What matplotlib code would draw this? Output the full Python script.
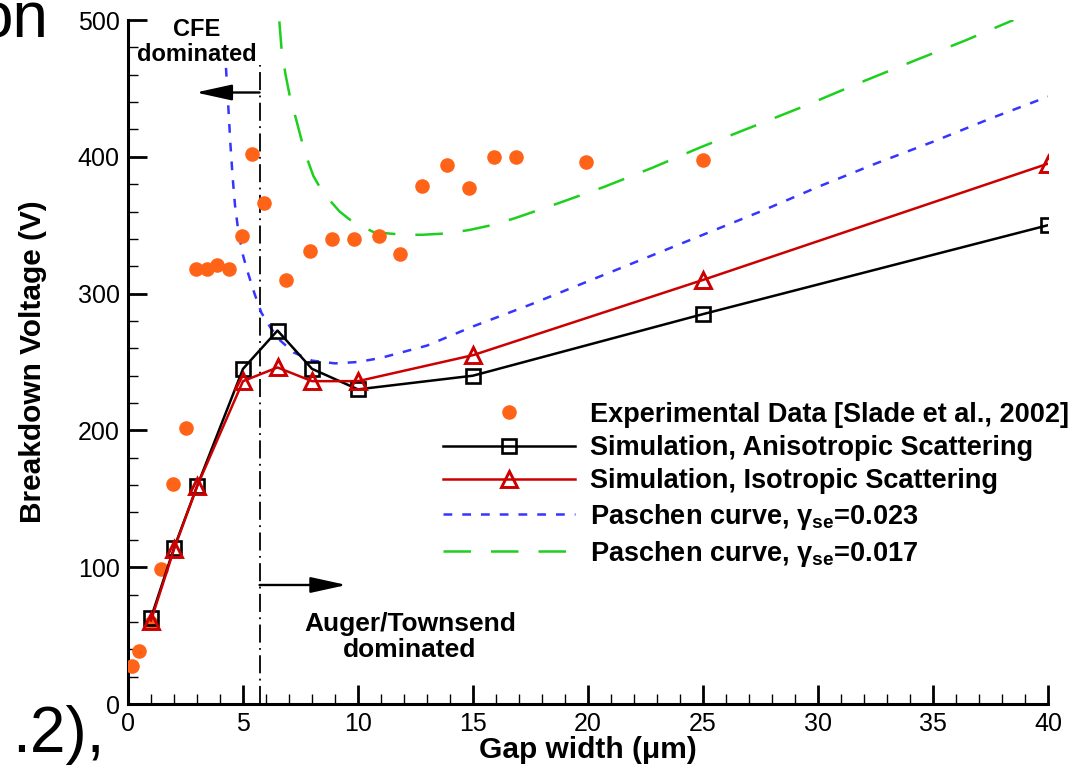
import matplotlib
matplotlib.use("Agg")
import matplotlib.pyplot as plt
from matplotlib.ticker import MultipleLocator

plt.rcParams["font.family"] = ["Liberation Sans", "DejaVu Sans"]
plt.rcParams["mathtext.fontset"] = "custom"
plt.rcParams["mathtext.rm"] = "Liberation Sans:bold"
plt.rcParams["mathtext.it"] = "Liberation Sans"

# experimental breakdown voltages [Slade et al., 2002]
exp_x = [0.19, 0.49, 0.99, 1.42, 1.97, 2.51, 2.94, 3.45, 3.88, 4.41, 4.97, 5.38, 5.9,
         6.86, 7.9, 8.87, 9.83, 10.9, 11.83, 12.8, 13.87, 14.83, 15.9, 16.85, 19.9, 25.0]
exp_y = [28, 39, 59, 99, 161, 202, 318, 318, 321, 318, 342, 402, 366,
         310, 331, 340, 340, 342, 329, 379, 394, 377, 400, 400, 396, 398]

# simulations
sim_x = [1, 2, 3, 5, 6.5, 8, 10, 15, 25, 40]
aniso_y = [63, 114, 159, 245, 273, 245, 230, 240, 285, 350]
iso_y = [61, 113, 159, 236, 246, 236, 236, 255, 310, 395]

# Paschen curves
pa023_x = [4.26, 4.35, 4.45, 4.55, 4.65, 4.8, 5.0, 5.2, 5.5, 5.8, 6.2, 6.6, 7.2, 8.0, 9.0,
           10.0, 11.0, 13.0, 15.0, 17.5, 20.0, 22.5, 25.0, 27.5, 30.0, 32.5, 35.0, 37.5, 40.0]
pa023_y = [465, 440, 410, 385, 365, 345, 328, 316, 300, 286, 275, 266, 257, 251, 249,
           250, 253, 262, 276, 292, 309, 326, 343, 360, 378, 395, 411, 428, 444]
pa017_x = [6.58, 6.68, 6.85, 7.04, 7.3, 7.55, 7.8, 8.06, 8.4, 8.78, 9.2, 9.65, 10.2, 10.67,
           11.3, 12.0, 12.8, 13.87, 14.84, 15.8, 16.8, 18.7, 20.7, 22.8, 24.9, 27.0, 29.4,
           31.8, 34.3, 36.4, 38.5]
pa017_y = [499, 478, 460, 444, 428, 412, 398, 386, 376, 368, 360, 354, 349, 345,
           344, 343, 343, 344, 346.5, 350, 355, 366, 378, 392, 407, 421, 437,
           454, 471, 485, 500]

regime_x = 5.72      # CFE / Townsend boundary
regime_top = 467

ORANGE = "#ff6318"
BLUE = "#3535ff"
GREEN = "#1ecf1e"
RED = "#cc0000"

fig = plt.figure(figsize=(10.8, 7.69), dpi=100)
ax = fig.add_axes([128 / 1080, 65 / 769, 920 / 1080, 684 / 769])

ax.plot(exp_x, exp_y, "o", color=ORANGE, ms=10.5, mec="none",
        label="Experimental Data [Slade et al., 2002]", zorder=3)
ax.plot(sim_x, aniso_y, "-s", color="black", lw=1.8, ms=10.5, mfc="none", mew=1.9,
        label="Simulation, Anisotropic Scattering", zorder=4)
ax.plot(sim_x, iso_y, "-^", color=RED, lw=1.8, ms=11.5, mfc="none", mew=2.1,
        label="Simulation, Isotropic Scattering", zorder=5)
ax.plot(pa023_x, pa023_y, color=BLUE, lw=1.8, dashes=(3.5, 4.0),
        label=r"Paschen curve, $\mathrm{\gamma_{se}}$=0.023", zorder=2)
ax.plot(pa017_x, pa017_y, color=GREEN, lw=1.8, dashes=(11, 8),
        label=r"Paschen curve, $\mathrm{\gamma_{se}}$=0.017", zorder=2)

ax.plot([regime_x, regime_x], [0, regime_top], color="black", lw=1.3,
        dashes=(10, 3, 1, 3), zorder=1)

arrow = dict(arrowstyle="-|>,head_length=1.0,head_width=0.22", color="black",
             lw=1.7, mutation_scale=22, shrinkA=0, shrinkB=0)
ax.annotate("", xy=(2.95, 447), xytext=(regime_x, 447), arrowprops=arrow)
ax.annotate("", xy=(9.5, 87), xytext=(regime_x, 87), arrowprops=arrow)

ax.text(3.0, 484, "CFE\ndominated", ha="center", va="center", fontsize=17,
        fontweight="bold", linespacing=1.1)
ax.text(12.26, 49, "Auger/Townsend\ndominated", ha="center", va="center",
        fontsize=19, fontweight="bold", linespacing=1.15)

ax.set_xlim(0, 40)
ax.set_ylim(0, 500)
ax.xaxis.set_major_locator(MultipleLocator(5))
ax.xaxis.set_minor_locator(MultipleLocator(1))
ax.yaxis.set_major_locator(MultipleLocator(100))
ax.yaxis.set_minor_locator(MultipleLocator(20))
ax.tick_params(which="major", direction="in", length=14, width=2, labelsize=18, pad=6)
ax.tick_params(which="minor", direction="in", length=7, width=1)
for s in ("top", "right"):
    ax.spines[s].set_visible(False)
for s in ("left", "bottom"):
    ax.spines[s].set_linewidth(2.2)

ax.set_xlabel("Gap width (\u03bcm)", fontsize=21.5, fontweight="bold", labelpad=0)
ax.set_ylabel("Breakdown Voltage (V)", fontsize=21.5, fontweight="bold", labelpad=22)

leg = ax.legend(loc="upper left", bbox_to_anchor=(0.342, 0.442), frameon=False,
                prop={"weight": "bold", "size": 19.5}, handlelength=4.9,
                handletextpad=0.55, labelspacing=0.27, borderpad=0, borderaxespad=0,
                numpoints=1)

# pieces of the surrounding page text
fig.text(48 / 1080, 1 - 38 / 769, "on", ha="right", va="baseline", fontsize=46)
fig.text(105 / 1080, 1 - 752 / 769, ".2),", ha="right", va="baseline", fontsize=46)

fig.savefig("out.png", dpi=100)
